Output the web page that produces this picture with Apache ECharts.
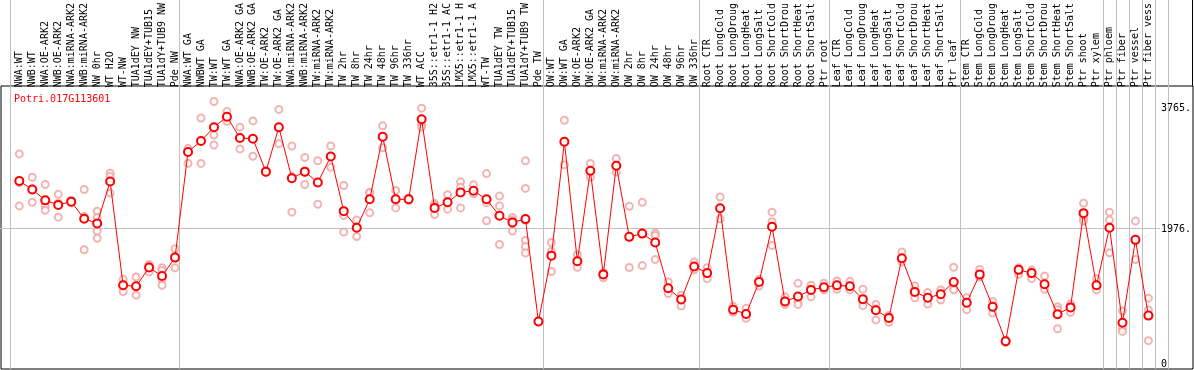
<!DOCTYPE html>
<html>
<head>
<meta charset="utf-8">
<script src="https://cdn.jsdelivr.net/npm/echarts@6/dist/echarts.min.js"></script>
<style>
html,body{margin:0;padding:0;background:#fff;}
#chart{width:1194px;height:370px;}
</style>
</head>
<body>
<div id="chart"></div>
<script>
const chartTitle = 'Potri.017G113601';

const categories = [
'NWA:WT','NWB:WT','NWA:OE-ARK2','NWB:OE-ARK2','NWA:miRNA-ARK2','NWB:miRNA-ARK2','NW 0hr','WT H2O','WT-NW','TUA1dEY NW','TUA1dEY+TUB15','TUA1dY+TUB9 NW','Pde NW',
'NWA:WT GA','NWBWT GA','TW:WT','TW:WT GA','NWA:OE-ARK2 GA','NWB:OE-ARK2 GA','TW:OE-ARK2','TW:OE-ARK2 GA','NWA:miRNA-ARK2','NWB:miRNA-ARK2','TW:miRNA-ARK2','TW:miRNA-ARK2','TW 2hr','TW 8hr','TW 24hr','TW 48hr','TW 96hr','TW 336hr','WT ACC','35S::etr1-1 H2','35S::etr1-1 AC','LMX5::etr1-1 H','LMX5::etr1-1 A','WT-TW','TUA1dEY TW','TUA1dEY+TUB15','TUA1dY+TUB9 TW','Pde TW',
'OW:WT','OW:WT GA','OW:OE-ARK2','OW:OE-ARK2 GA','OW:miRNA-ARK2','OW:miRNA-ARK2','OW 2hr','OW 8hr','OW 24hr','OW 48hr','OW 96hr','OW 336hr',
'Root CTR','Root LongCold','Root LongDroug','Root LongHeat','Root LongSalt','Root ShortCold','Root ShortDrou','Root ShortHeat','Root ShortSalt','Ptr root',
'Leaf CTR','Leaf LongCold','Leaf LongDroug','Leaf LongHeat','Leaf LongSalt','Leaf ShortCold','Leaf ShortDrou','Leaf ShortHeat','Leaf ShortSalt','Ptr leaf',
'Stem CTR','Stem LongCold','Stem LongDroug','Stem LongHeat','Stem LongSalt','Stem ShortCold','Stem ShortDrou','Stem ShortHeat','Stem ShortSalt','Ptr shoot','Ptr xylem',
'Ptr phloem','Ptr fiber','Ptr vessel','Ptr fiber vess'
];

// indices (left edge of category) where group separator lines are drawn
const groupBreaks = [0, 13, 41, 53, 63, 73, 84, 85, 86, 87, 88];

const yTickValues = [0, 1976, 3765];

const means = [
2693,2567,2407,2340,2388,2136,2068,2683,1158,1143,1419,1294,1565,
3119,3279,3483,3637,3323,3313,2829,3483,2732,2829,2669,3052,2248,2005,2422,3342,2422,2422,3599,2296,2378,2524,2548,2422,2180,2083,2131,625,
1594,3269,1512,2843,1318,2916,1870,1918,1787,1114,950,1434,
1337,2291,800,737,1206,2020,921,993,1090,1129,
1158,1143,954,790,678,1555,1061,974,1027,1206,
901,1318,843,335,1385,1337,1172,732,833,2219,1158,
2005,606,1826,712
];

const replicates = [
[3090,2664,2325],[2746,2577,2378],[2640,2325,2262],[2495,2364,2160],[2408,2388,2369],[2567,2170,1681],[2248,2156,1957,1850],[2805,2756,2514],[1245,1166,1066],[1279,1139,1013],[1463,1439,1352],[1415,1376,1245,1158],[1695,1584,1415],
[3168,3119,2950],[3618,3279,2950],[3860,3366,3221],[3715,3628,3570],[3483,3328,3163],[3575,3313,3056],[2843,2829,2814],[3744,3473,3240],[3206,2756,2233],[3037,2814,2640],[2989,2669,2349],[3206,3052,2892],[2625,2185,1942],[2117,2020,1875],[2524,2519,2223],[3502,3342,3182],[2553,2422,2296],[2441,2412,2407],[3763,3521,3483],[2359,2335,2199],[2490,2369,2277],[2679,2601,2296],[2635,2548,2504],[2800,2373,2107],[2470,2325,1758],[2156,2117,1957],[2989,2582,2117,1817,1729,1633],[625,620,630],
[1787,1657,1361],[3584,3269,2930],[1608,1512,1424],[2950,2843,2746],[1342,1318,1269],[3022,2911,2819],[2320,1870,1419],[2378,1918,1448],[1923,1889,1536],[1206,1100,1037],[1013,954,853],[1502,1434,1385],
[1415,1337,1255],[2456,2291,2136],[848,800,761],[819,737,674],[1245,1206,1148],[2233,2093,1744],[988,906,875],[1187,916,877],[1158,1100,988],[1187,1110,1090],
[1221,1158,1100],[1216,1143,1090],[1100,906,858],[877,810,649],[712,690,615],[1647,1555,1502],[1148,1061,974],[1051,974,882],[1090,1027,940],[1424,1110,1090],
[974,901,800],[1390,1293,1280],[921,843,751],[349,335,315],[1415,1390,1318],[1381,1337,1255],[1293,1172,1100],[843,800,519],[882,833,761],[2364,2141,2102],[1255,1158,1090],
[2233,2117,1637],[780,519,480],[2102,1826,1536],[969,795,344]
];

const repPoints = [];
replicates.forEach((arr, i) => arr.forEach(v => repPoints.push([i, v])));

const Y_MIN = -73, Y_MAX = 4040;
const MONO = '"DejaVu Sans Mono", "Liberation Mono", monospace';
const breakCats = categories.concat(['']);

const chart = echarts.init(document.getElementById('chart'), null, {renderer: 'canvas'});
chart.setOption({
  animation: false,
  backgroundColor: '#fff',
  title: {
    text: chartTitle, left: 9, top: 89,
    textStyle: {color: '#ff0000', fontSize: 10, fontWeight: 'normal', fontFamily: MONO}
  },
  grid: [
    {left: 12.8, right: 37.2, top: 86, bottom: 1},           // data
    {left: 10, right: 26, top: 0, bottom: 1},                  // separators
    {left: 1, right: 1, top: 86, bottom: 1, show: true, borderColor: '#000', borderWidth: 1, backgroundColor: 'transparent'}, // frame
    {left: 0, right: 34, top: 86, bottom: 1}                   // horizontal gridline
  ],
  xAxis: [
    {
      gridIndex: 0, type: 'category', data: categories, position: 'top',
      axisLine: {show: false}, axisTick: {show: false}, splitLine: {show: false},
      axisLabel: {interval: 0, rotate: 90, margin: 2, color: '#000', fontSize: 10, fontFamily: MONO, hideOverlap: false}
    },
    {
      gridIndex: 1, type: 'category', data: breakCats,
      axisLine: {show: false}, axisTick: {show: false}, axisLabel: {show: false},
      splitLine: {show: true, interval: (idx) => groupBreaks.indexOf(idx) >= 0, lineStyle: {color: '#c0c0c0', width: 1}}
    },
    {gridIndex: 2, type: 'value', show: false, min: 0, max: 1},
    {gridIndex: 3, type: 'value', show: false, min: 0, max: 1}
  ],
  yAxis: [
    {
      gridIndex: 0, type: 'value', min: Y_MIN, max: Y_MAX, position: 'right',
      axisLine: {show: false}, axisTick: {show: false}, splitLine: {show: false},
      axisLabel: {
        customValues: yTickValues, margin: 6, color: '#000', fontSize: 10, fontFamily: MONO,
        formatter: (v) => v === 0 ? '0' : v + '.'
      }
    },
    {gridIndex: 1, type: 'value', show: false, min: 0, max: 1},
    {gridIndex: 2, type: 'value', show: false, min: 0, max: 1},
    {gridIndex: 3, type: 'value', show: false, min: Y_MIN, max: Y_MAX}
  ],
  graphic: [
    {type: 'line', shape: {x1: 1192.5, y1: 0, x2: 1192.5, y2: 86}, style: {stroke: '#000', lineWidth: 1}, silent: true}
  ],
  series: [
    {
      type: 'line', xAxisIndex: 3, yAxisIndex: 3, data: [], silent: true,
      markLine: {
        silent: true, symbol: 'none', label: {show: false},
        lineStyle: {color: '#c0c0c0', type: 'solid', width: 1},
        data: [{yAxis: 1976}]
      }
    },
    {
      type: 'scatter', xAxisIndex: 0, yAxisIndex: 0, data: repPoints, z: 3,
      symbol: 'emptyCircle', symbolSize: 7,
      itemStyle: {color: '#f0a0a0', borderColor: '#f0a0a0', borderWidth: 1.1}
    },
    {
      type: 'line', xAxisIndex: 0, yAxisIndex: 0, data: means, z: 5,
      symbol: 'emptyCircle', symbolSize: 8,
      lineStyle: {color: '#ff0000', width: 1},
      itemStyle: {color: '#ff0000', borderColor: '#ff0000', borderWidth: 1.3}
    }
  ]
});
</script>
</body>
</html>
